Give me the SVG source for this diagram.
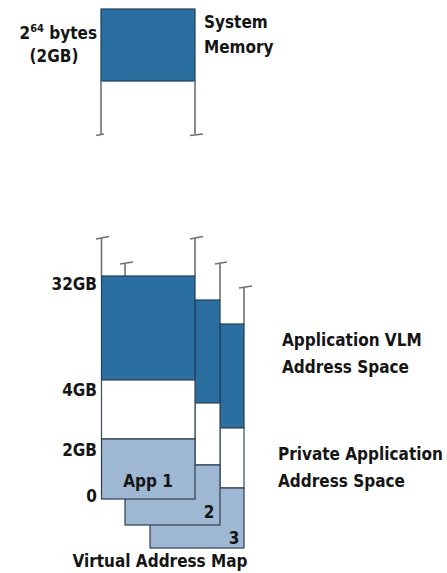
<svg xmlns="http://www.w3.org/2000/svg" width="447" height="573" viewBox="0 0 447 573">
<style>
text{font-family:"DejaVu Sans Condensed","Liberation Sans Narrow","Liberation Sans",sans-serif;font-weight:bold;font-size:17px;fill:#151515}
.dk{fill:#2b6ea0;stroke:#1d3f5a;stroke-width:1.2}
.wh{fill:#fff;stroke:#3a4a58;stroke-width:1.2}
.lt{fill:#9eb7d2;stroke:#2c3e50;stroke-width:1.2}
.stem{stroke:#707070;stroke-width:1.6;fill:none}
.end{text-anchor:end}
</style>
<rect width="447" height="573" fill="#fff"/>
<g id="system-memory">
<rect class="dk" x="101" y="9" width="94" height="72"/>
<path class="stem" d="M101 81V134M195 81V134M96 135.5L104 134M190 135.5L203 134"/>
<text x="97" y="39" class="end">2<tspan font-size="11" dy="-7">64</tspan><tspan dy="7"> bytes</tspan></text>
<text x="54" y="62" text-anchor="middle">(2GB)</text>
<text x="204" y="28">System</text>
<text x="204" y="53">Memory</text>
</g>
<g id="connectors">
<path class="stem" d="M101.5 276V238M195 276V238M125 276V263M220 300V263M244 324V287"/>
<path class="stem" d="M96 239L109 236.5M190 239L203 236.5M120 264L133 262M215 264L227 262M239 288L252 286"/>
</g>
<g id="app3">
<rect class="dk" x="220" y="324" width="24" height="104"/>
<rect class="wh" x="220" y="428" width="24" height="60"/>
<rect class="lt" x="150" y="488" width="94" height="60"/>
<text x="234" y="544" text-anchor="middle">3</text>
</g>
<g id="app2">
<rect class="dk" x="195" y="300" width="25" height="103"/>
<rect class="wh" x="195" y="403" width="25" height="62"/>
<rect class="lt" x="125" y="465" width="95" height="60"/>
<text x="209" y="518" text-anchor="middle">2</text>
</g>
<g id="app1">
<rect class="dk" x="101.5" y="276" width="93.5" height="104"/>
<rect class="wh" x="101.5" y="380" width="93.5" height="59"/>
<rect class="lt" x="101.5" y="439" width="93.5" height="60"/>
<text x="148" y="487" text-anchor="middle">App 1</text>
</g>
<g id="axis-labels">
<text x="97" y="290" class="end">32GB</text>
<text x="97" y="396" class="end">4GB</text>
<text x="97" y="456" class="end">2GB</text>
<text x="97" y="502" class="end">0</text>
</g>
<g id="legend">
<text x="282" y="346">Application VLM</text>
<text x="282" y="373">Address Space</text>
<text x="278" y="460">Private Application</text>
<text x="278" y="487">Address Space</text>
<text x="160" y="567" text-anchor="middle">Virtual Address Map</text>
</g>
</svg>
